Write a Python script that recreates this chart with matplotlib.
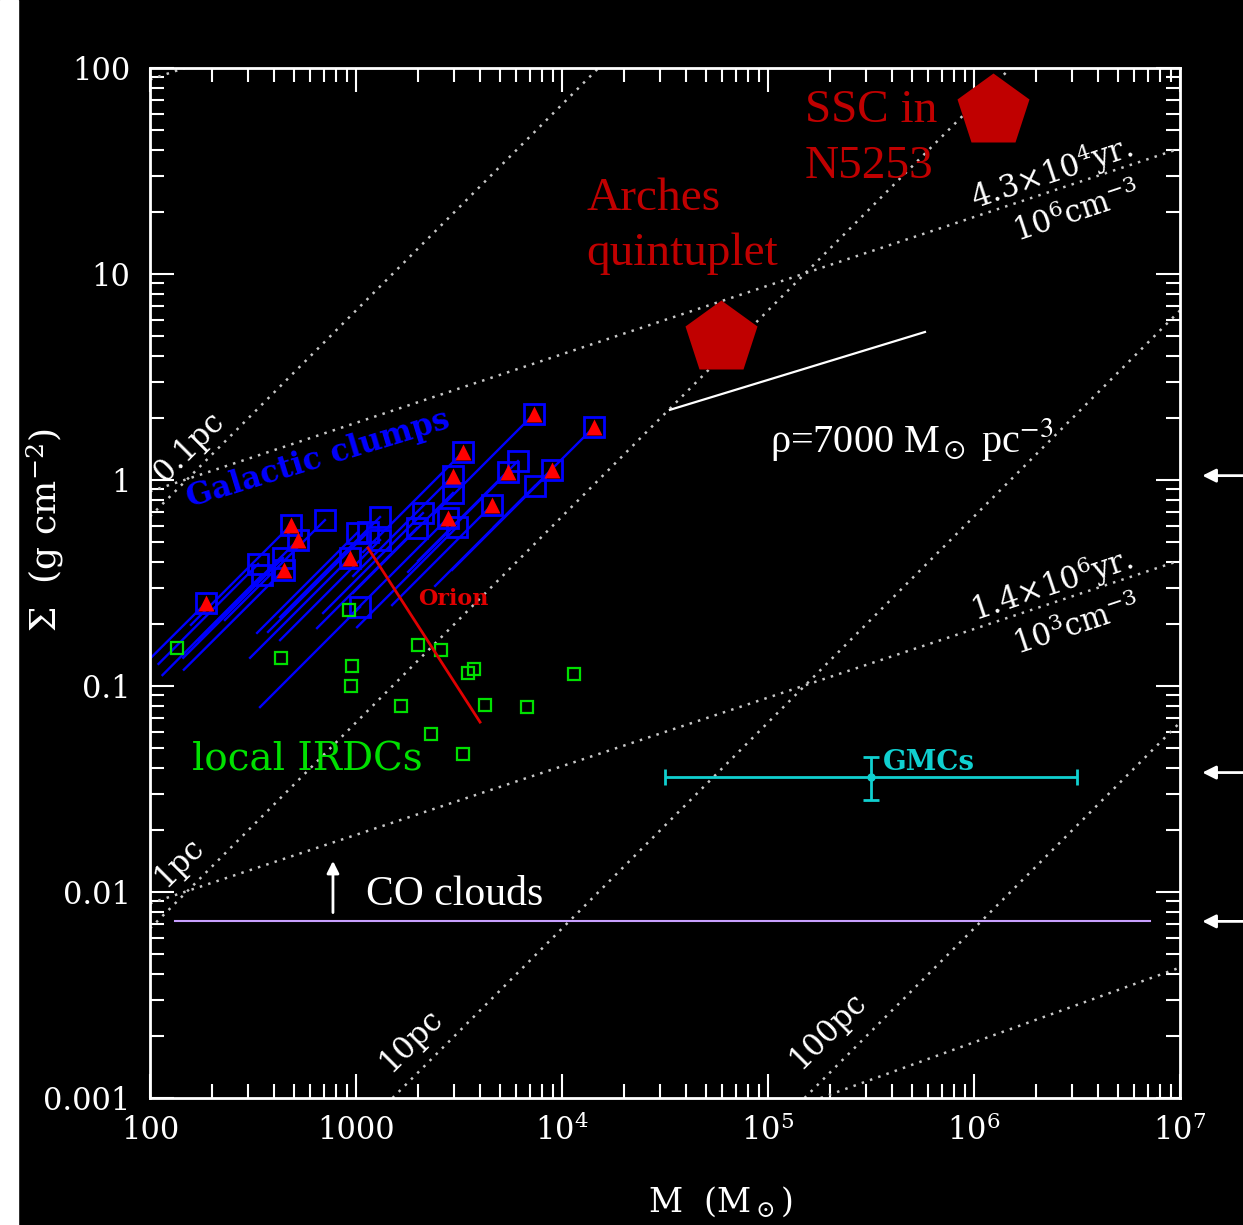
import numpy as np
import matplotlib
matplotlib.use('Agg')
import matplotlib.pyplot as plt
from matplotlib.patches import Rectangle
from matplotlib.ticker import NullFormatter, LogLocator

matplotlib.rcParams['font.family'] = 'DejaVu Serif'
matplotlib.rcParams['mathtext.fontset'] = 'dejavuserif'

# Galactic clumps: square position, line lower end, triangle flag
clump_M = [7313, 14300, 3307, 2957, 6114, 5467, 8943, 7395, 2957, 4574, 2797, 3093, 2114, 1978,
           1308, 1011, 1144, 1308, 935, 1046, 707, 484, 523, 335, 350, 442, 447, 187]
clump_S = [2.091, 1.808, 1.367, 1.046, 1.236, 1.093, 1.118, 0.935, 0.865, 0.756, 0.654, 0.591, 0.691, 0.585,
           0.661, 0.553, 0.559, 0.511, 0.418, 0.242, 0.639, 0.605, 0.511, 0.391, 0.346, 0.418, 0.366, 0.253]
clump_Mlo = [2394, 4681, 1083, 968, 2001, 1790, 2927, 2421, 968, 1497, 916, 1012, 692, 647,
             428, 331, 374, 428, 306, 342, 231, 158, 171, 110, 115, 145, 146, 61]
clump_Slo = [0.684, 0.592, 0.447, 0.342, 0.405, 0.358, 0.366, 0.306, 0.283, 0.247, 0.214, 0.193, 0.226, 0.191,
             0.216, 0.181, 0.183, 0.167, 0.137, 0.079, 0.209, 0.198, 0.167, 0.128, 0.113, 0.137, 0.120, 0.083]
clump_tri = [1, 1, 1, 1, 0, 1, 1, 0, 0, 1, 1, 0, 0, 0,
             0, 0, 0, 0, 1, 0, 0, 1, 1, 0, 0, 0, 1, 1]

# local IRDCs
irdc_M = [135, 433, 960, 948, 927, 2004, 2588, 3484, 3750, 1648, 4227, 6790, 11480, 2312, 3318]
irdc_S = [0.153, 0.136, 0.125, 0.100, 0.234, 0.158, 0.150, 0.115, 0.121, 0.080, 0.081, 0.0788, 0.114, 0.0585, 0.0469]

# Orion track
orion_M = [1143, 4000]
orion_S = [0.468, 0.0668]

# GMCs
gmc_M, gmc_S = 3.16e5, 0.036
gmc_Mlo, gmc_Mhi = 3.16e4, 3.16e6
gmc_Slo, gmc_Shi = 0.028, 0.045

# star clusters (pentagons)
cluster_M = [5.92e4, 1.236e6]
cluster_S = [4.89, 61.9]

# constant radius lines
radius_M = [[100, 15040], [100, 1.504e6], [1504, 1e7], [1.504e5, 1e7]]
radius_S = [[0.665, 100], [0.00665, 100], [0.001, 6.65], [0.001, 0.0665]]
# constant density lines
dens_M = [[100, 147], [100, 1e7], [100, 1e7], [1.8e5, 1e7]]
dens_S = [[87.9, 100], [0.88, 40.7], [0.0088, 0.407], [0.001, 0.0043]]

# rho = 7000 Msun pc^-3
rho_M = [3.34e4, 5.78e5]
rho_S = [2.19, 5.23]

# CO clouds threshold
co_M = [132, 7.14e6]
co_S = 0.0072
co_arrow_M = 773
co_arrow_S = [0.0077, 0.0146]

arrow_S = [1.05, 0.038, 0.0072]

xticks = [1e2, 1e3, 1e4, 1e5, 1e6, 1e7]
xticklabels = ['100', '1000', r'$10^4$', r'$10^5$', r'$10^6$', r'$10^7$']
yticks = [1e-3, 1e-2, 1e-1, 1, 10, 100]
yticklabels = ['0.001', '0.01', '0.1', '1', '10', '100']

fig = plt.figure(figsize=(12.43, 12.25), dpi=100, facecolor='black')
fig.patches.append(Rectangle((0, 0), 18 / 1243, 1, transform=fig.transFigure,
                             color='white', zorder=-1))
ax = fig.add_axes([150 / 1243, 1 - 1098 / 1225, 1030 / 1243, 1030 / 1225])
ax.set_facecolor('black')
ax.set_xscale('log')
ax.set_yscale('log')
ax.set_xlim(100, 1e7)
ax.set_ylim(1e-3, 100)

dot = (0, (1, 2.5))
for m, s in zip(radius_M, radius_S):
    ax.plot(m, s, color='#c8c8c8', lw=1.8, ls=dot)
for m, s in zip(dens_M, dens_S):
    ax.plot(m, s, color='#c8c8c8', lw=1.8, ls=dot)

lab = dict(color='white', fontsize=22, rotation_mode='anchor', ha='left', va='baseline')
ax.text(118, 0.97, '0.1pc', rotation=45, **lab)
ax.text(118, 0.0105, '1pc', rotation=45, **lab)
ax.text(1462, 0.00132, '10pc', rotation=45, **lab)
ax.text(1.43e5, 0.00137, '100pc', rotation=45, **lab)
ax.text(1.01e6, 20.5, r'4.3$\times$10$^4$yr.', rotation=18.4, **lab)
ax.text(1.62e6, 14.3, r'10$^6$cm$^{-3}$', rotation=18.4, **lab)
ax.text(1.01e6, 0.205, r'1.4$\times$10$^6$yr.', rotation=18.4, **lab)
ax.text(1.62e6, 0.1416, r'10$^3$cm$^{-3}$', rotation=18.4, **lab)

# Galactic clumps
for i in range(len(clump_M)):
    ax.plot([clump_Mlo[i], clump_M[i]], [clump_Slo[i], clump_S[i]], color='#0000ff', lw=1.7)
ax.plot(clump_M, clump_S, 's', mfc='none', mec='#0000ff', ms=15, mew=2)
tri_M = [m for m, t in zip(clump_M, clump_tri) if t]
tri_S = [s for s, t in zip(clump_S, clump_tri) if t]
ax.plot(tri_M, tri_S, '^', color='#ff0000', ms=11, mec='none')
ax.text(156, 0.74, 'Galactic clumps', color='#0000ff', fontsize=22, fontweight='bold',
        rotation=17, rotation_mode='anchor', ha='left', va='baseline')

# IRDCs
ax.plot(irdc_M, irdc_S, 's', mfc='none', mec='#00e000', ms=9, mew=1.6)
ax.text(160, 0.039, 'local IRDCs', color='#00e000', fontsize=28, va='baseline')

# Orion
ax.plot(orion_M, orion_S, color='#e00000', lw=2)
ax.text(2000, 0.247, 'Orion', color='#e00000', fontsize=16, fontweight='bold', va='baseline')

# GMCs
ax.errorbar([gmc_M], [gmc_S], xerr=[[gmc_M - gmc_Mlo], [gmc_Mhi - gmc_M]],
            yerr=[[gmc_S - gmc_Slo], [gmc_Shi - gmc_S]], fmt='o', color='#10d0d0',
            ms=5, capsize=6, elinewidth=2, capthick=2)
ax.text(3.61e5, 0.039, 'GMCs', color='#10d0d0', fontsize=20, fontweight='bold', va='baseline')

# clusters
ax.plot(cluster_M, cluster_S, 'p', color='#c00000', ms=55, mec='none', clip_on=False, zorder=5)
red_txt = dict(color='#c00000', fontsize=34, family='Liberation Serif', va='baseline')
ax.text(1.31e4, 20.5, 'Arches', **red_txt)
ax.text(1.31e4, 11.1, 'quintuplet', **red_txt)
ax.text(1.51e5, 54.7, 'SSC in', **red_txt)
ax.text(1.51e5, 29.2, 'N5253', **red_txt)

# density line
ax.plot(rho_M, rho_S, color='white', lw=1.6)
ax.text(1.02e5, 1.37, 'ρ=7000 M$_\\odot$ pc$^{-3}$', color='white', fontsize=29,
        family='Liberation Serif', math_fontfamily='stix', va='baseline')

# CO clouds
ax.plot(co_M, [co_S, co_S], color='#c8a0ff', lw=1.5)
ax.annotate('', xy=(co_arrow_M, co_arrow_S[1]), xytext=(co_arrow_M, co_arrow_S[0]),
            arrowprops=dict(arrowstyle='-|>', color='white', lw=2, mutation_scale=18))
ax.text(1119, 0.00865, 'CO clouds', color='white', fontsize=30,
        family='Liberation Serif', va='baseline')

for s in arrow_S:
    ax.annotate('', xy=(1.019, s), xycoords=ax.get_yaxis_transform(),
                xytext=(1.07, s), textcoords=ax.get_yaxis_transform(),
                arrowprops=dict(arrowstyle='-|>', color='white', lw=2, mutation_scale=20),
                annotation_clip=False)

ax.set_xticks(xticks)
ax.set_xticklabels(xticklabels)
ax.set_yticks(yticks)
ax.set_yticklabels(yticklabels)
ax.xaxis.set_minor_locator(LogLocator(base=10, subs=np.arange(2, 10), numticks=20))
ax.yaxis.set_minor_locator(LogLocator(base=10, subs=np.arange(2, 10), numticks=20))
ax.xaxis.set_minor_formatter(NullFormatter())
ax.yaxis.set_minor_formatter(NullFormatter())
ax.tick_params(which='both', direction='in', top=True, right=True, colors='white',
               labelcolor='white', labelsize=22, width=1.5)
ax.tick_params(which='major', length=17)
ax.tick_params(which='minor', length=10)
ax.tick_params(axis='x', pad=12)
ax.tick_params(axis='y', pad=14)
for sp in ax.spines.values():
    sp.set_color('white')
    sp.set_linewidth(2)

fig.text(720 / 1243, 1 - 1212 / 1225, r'M  (M$_\odot$)', color='white', fontsize=24,
         ha='center', va='baseline')
fig.text(45 / 1243, 1 - 530 / 1225, r'$\Sigma$  (g cm$^{-2}$)', color='white', fontsize=26,
         ha='center', va='center', rotation=90)

fig.savefig('out.png', dpi=100, facecolor='black')
